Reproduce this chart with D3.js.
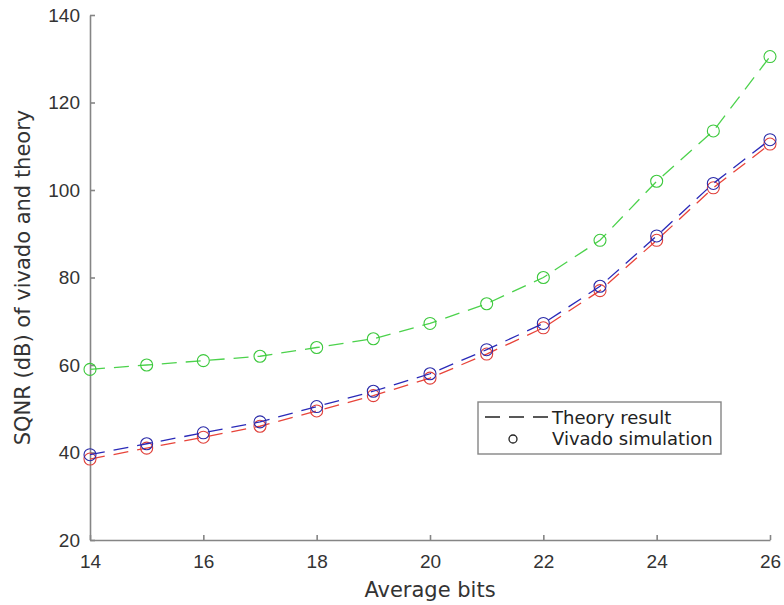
<!DOCTYPE html>
<html>
<head>
<meta charset="utf-8">
<script src="https://cdn.jsdelivr.net/npm/d3@7"></script>
<style>
  body { margin: 0; background: #fff; }
  svg { font-family: "DejaVu Sans", sans-serif; }
  .axis path, .axis line { stroke: #858585; stroke-width: 1.6; }
  .axis text { fill: #333; font-size: 19px; }
  .label { fill: #333; font-size: 21px; }
</style>
</head>
<body>
<div id="chart"></div>
<script>
var bits = [14, 15, 16, 17, 18, 19, 20, 21, 22, 23, 24, 25, 26];
var greenVals = [59, 60, 61, 62, 64, 66, 69.5, 74, 80, 88.5, 102, 113.5, 130.5];
var blueVals = [39.5, 42, 44.5, 47, 50.5, 54, 58, 63.5, 69.5, 78, 89.5, 101.5, 111.5];
var redVals = [38.5, 41, 43.5, 46, 49.5, 53, 57, 62.5, 68.5, 77, 88.5, 100.5, 110.5];
var xTicks = [14, 16, 18, 20, 22, 24, 26];
var yTicks = [20, 40, 60, 80, 100, 120, 140];
var legendLabels = ["Theory result", "Vivado simulation"];

var series = [
  {name: "green", values: greenVals, line: "#4cd24c", mark: "#3cc83c"},
  {name: "red", values: redVals, line: "#e8443a", mark: "#e0403a"},
  {name: "blue", values: blueVals, line: "#2a2ab8", mark: "#2a2aa8"}
];

var margin = {top: 15, right: 14, bottom: 65, left: 90},
    width = 784 - margin.left - margin.right,
    height = 605 - margin.top - margin.bottom;

var svg = d3.select("#chart").append("svg")
    .attr("width", 784)
    .attr("height", 605)
  .append("g")
    .attr("transform", "translate(" + margin.left + "," + margin.top + ")");

var x = d3.scaleLinear().domain([14, 26]).range([0, width]);
var y = d3.scaleLinear().domain([20, 140]).range([height, 0]);

svg.append("g")
    .attr("class", "axis axis--x")
    .attr("transform", "translate(0," + height + ")")
    .call(d3.axisBottom(x).tickValues(xTicks).tickSizeInner(-5).tickSizeOuter(0).tickPadding(15));

svg.append("g")
    .attr("class", "axis axis--y")
    .call(d3.axisLeft(y).tickValues(yTicks).tickSizeInner(-5).tickSizeOuter(0).tickPadding(10));

var line = d3.line()
    .x(function(d, i) { return x(bits[i]); })
    .y(function(d) { return y(d); });

series.forEach(function(s) {
  svg.append("path")
      .datum(s.values)
      .attr("fill", "none")
      .attr("stroke", s.line)
      .attr("stroke-width", 1.3)
      .attr("stroke-dasharray", "15,9")
      .attr("d", line);

  svg.selectAll(".pt-" + s.name)
      .data(s.values)
    .enter().append("circle")
      .attr("class", "pt-" + s.name)
      .attr("cx", function(d, i) { return x(bits[i]); })
      .attr("cy", function(d) { return y(d); })
      .attr("r", 6)
      .attr("fill", "none")
      .attr("stroke", s.mark)
      .attr("stroke-width", 1.1);
});

// axis titles
svg.append("text")
    .attr("class", "label")
    .attr("x", width / 2)
    .attr("y", height + 57)
    .attr("text-anchor", "middle")
    .text("Average bits");

svg.append("text")
    .attr("class", "label")
    .attr("transform", "rotate(-90)")
    .attr("x", -height / 2)
    .attr("y", -60)
    .attr("text-anchor", "middle")
    .text("SQNR (dB) of vivado and theory");

// legend
var legend = svg.append("g")
    .attr("transform", "translate(" + (478 - margin.left) + "," + (402 - margin.top) + ")");

legend.append("rect")
    .attr("width", 243)
    .attr("height", 52)
    .attr("fill", "#fff")
    .attr("stroke", "#858585")
    .attr("stroke-width", 1.4);

legend.append("line")
    .attr("x1", 7).attr("x2", 72)
    .attr("y1", 15).attr("y2", 15)
    .attr("stroke", "#222")
    .attr("stroke-width", 1.3)
    .attr("stroke-dasharray", "15,9");

legend.append("circle")
    .attr("cx", 35).attr("cy", 37)
    .attr("r", 4)
    .attr("fill", "none")
    .attr("stroke", "#222")
    .attr("stroke-width", 1.3);

legend.selectAll(".leg-text")
    .data(legendLabels)
  .enter().append("text")
    .attr("class", "leg-text")
    .attr("x", 74)
    .attr("y", function(d, i) { return 22 + i * 21; })
    .attr("fill", "#222")
    .style("font-size", "18px")
    .text(function(d) { return d; });
</script>
</body>
</html>
